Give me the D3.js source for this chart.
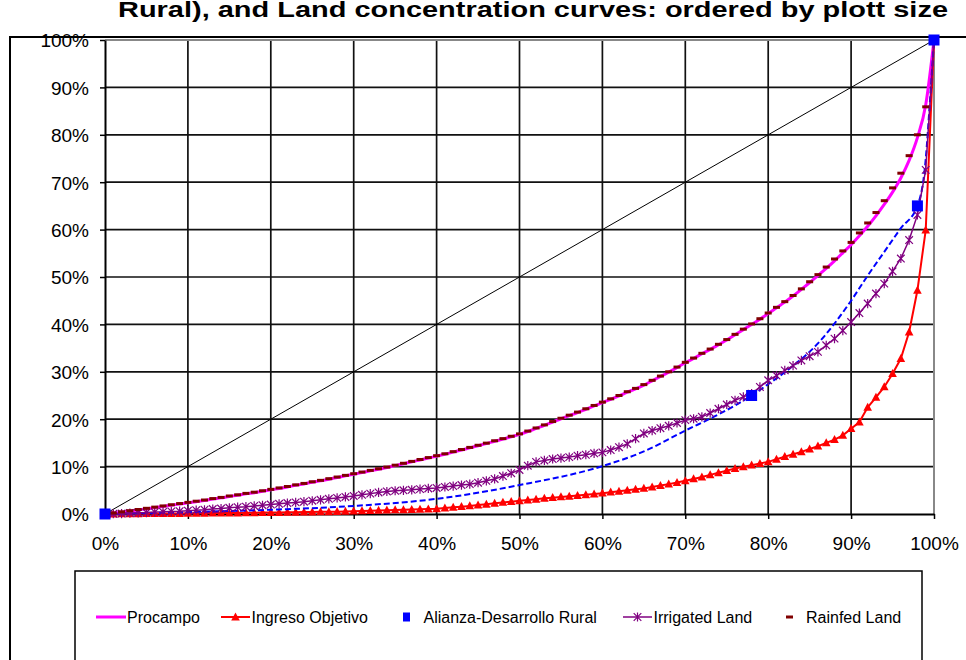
<!DOCTYPE html>
<html>
<head>
<meta charset="utf-8">
<script src="https://cdn.jsdelivr.net/npm/d3@7"></script>
<style>
  html, body { margin: 0; padding: 0; background: #fff; }
  svg { display: block; font-family: "Liberation Sans", Arial, sans-serif; }
</style>
</head>
<body>
<svg id="chart" width="966" height="660"></svg>
<script>
// ---- data ----------------------------------------------------------
const titleText = "Rural), and Land concentration curves: ordered by plott size";

const xTicks = [0, 10, 20, 30, 40, 50, 60, 70, 80, 90, 100];
const yTicks = [0, 10, 20, 30, 40, 50, 60, 70, 80, 90, 100];
const xTickLabels = ["0%", "10%", "20%", "30%", "40%", "50%", "60%", "70%", "80%", "90%", "100%"];
const yTickLabels = ["0%", "10%", "20%", "30%", "40%", "50%", "60%", "70%", "80%", "90%", "100%"];

// cumulative share of beneficiaries / plots (%), one point per percentile
const shares = d3.range(0, 101);

// cumulative share of payments / land (%)
const procampo = [
  0, 0.15, 0.35, 0.6, 0.85, 1.1, 1.35, 1.6, 1.85, 2.1,
  2.35, 2.6, 2.85, 3.15, 3.4, 3.7, 3.95, 4.25, 4.5, 4.8,
  5.1, 5.4, 5.7, 6.05, 6.35, 6.7, 7.0, 7.35, 7.7, 8.05,
  8.4, 8.75, 9.1, 9.45, 9.8, 10.2, 10.6, 11.0, 11.4, 11.8,
  12.2, 12.6, 13.05, 13.5, 13.95, 14.4, 14.85, 15.35, 15.8, 16.3,
  16.8, 17.4, 18.05, 18.7, 19.4, 20.1, 20.75, 21.4, 22.1, 22.8,
  23.5, 24.2, 24.9, 25.7, 26.4, 27.2, 28.1, 29.0, 29.9, 30.9,
  31.9, 32.8, 33.8, 34.7, 35.7, 36.7, 37.8, 38.9, 40.0, 41.1,
  42.3, 43.5, 44.7, 46.0, 47.4, 48.8, 50.3, 51.8, 53.4, 55.1,
  56.8, 58.7, 60.7, 62.9, 65.3, 67.9, 70.9, 74.6, 79.4, 86.3,
  100
];

const ingresoObjetivo = [
  0, 0, 0.05, 0.05, 0.05, 0.1, 0.1, 0.1, 0.1, 0.1,
  0.15, 0.15, 0.15, 0.2, 0.2, 0.2, 0.2, 0.25, 0.25, 0.3,
  0.3, 0.3, 0.35, 0.35, 0.4, 0.4, 0.45, 0.45, 0.5, 0.55,
  0.6, 0.65, 0.7, 0.75, 0.8, 0.85, 0.9, 0.95, 1.0, 1.05,
  1.1, 1.25, 1.4, 1.55, 1.7, 1.9, 2.05, 2.25, 2.45, 2.6,
  2.8, 2.95, 3.1, 3.3, 3.45, 3.6, 3.75, 3.9, 4.05, 4.2,
  4.4, 4.6, 4.8, 5.0, 5.2, 5.4, 5.7, 6.0, 6.3, 6.65,
  7.0, 7.4, 7.8, 8.25, 8.7, 9.15, 9.6, 9.95, 10.3, 10.65,
  11.0, 11.55, 12.1, 12.6, 13.1, 13.7, 14.3, 15.0, 15.7, 16.6,
  18.0, 19.4, 22.5, 24.6, 26.8, 29.6, 32.8, 38.4, 47.2, 59.9,
  100
];

const alianzaX = [0, 78, 98, 100];
const alianzaY = [0, 25, 65, 100];
// fitted curve through the Alianza points
const alianzaFitX = [0, 10, 20, 30, 40, 50, 60, 65, 70, 74, 78, 80, 82, 86, 90, 92, 94, 96, 98, 99, 99.5, 100];
const alianzaFitY = [0, 0.4, 0.9, 1.7, 3.2, 6.1, 10.1, 13.2, 17.6, 21.0, 25.0, 27.4, 29.9, 36.0, 45.0, 50.3, 55.3, 60.3, 65.0, 74.8, 86.8, 100];

const irrigatedLand = [
  0, 0.05, 0.1, 0.2, 0.25, 0.3, 0.4, 0.45, 0.55, 0.6,
  0.7, 0.8, 0.9, 1.05, 1.15, 1.3, 1.45, 1.55, 1.7, 1.85,
  2.0, 2.15, 2.3, 2.45, 2.6, 2.8, 3.0, 3.2, 3.4, 3.6,
  3.8, 4.05, 4.3, 4.55, 4.75, 4.9, 5.0, 5.1, 5.25, 5.4,
  5.5, 5.7, 5.9, 6.1, 6.3, 6.6, 7.0, 7.4, 8.0, 8.6,
  9.3, 10.2, 11.0, 11.3, 11.6, 11.8, 12.0, 12.3, 12.5, 12.8,
  13.0, 13.5, 14.1, 14.8, 15.9, 17.0, 17.6, 18.1, 18.6, 19.2,
  19.8, 20.1, 20.5, 21.3, 22.2, 23.1, 24.0, 24.7, 25.4, 26.8,
  28.2, 29.2, 30.3, 31.3, 32.4, 33.3, 34.2, 35.6, 37.0, 38.7,
  40.5, 42.4, 44.4, 46.5, 48.6, 51.2, 53.9, 57.8, 63.1, 72.6,
  100
];

const rainfedLand = [
  0, 0.2, 0.45, 0.7, 0.95, 1.2, 1.45, 1.7, 1.95, 2.2,
  2.45, 2.7, 2.95, 3.25, 3.5, 3.8, 4.05, 4.35, 4.6, 4.9,
  5.2, 5.5, 5.8, 6.15, 6.45, 6.8, 7.1, 7.45, 7.8, 8.15,
  8.5, 8.85, 9.2, 9.55, 9.9, 10.3, 10.7, 11.1, 11.5, 11.9,
  12.3, 12.7, 13.15, 13.6, 14.05, 14.5, 14.95, 15.45, 15.9, 16.4,
  16.9, 17.5, 18.15, 18.8, 19.5, 20.2, 20.85, 21.5, 22.2, 22.9,
  23.6, 24.3, 25.0, 25.8, 26.5, 27.3, 28.2, 29.1, 30.0, 31.0,
  32.0, 32.9, 33.9, 34.8, 35.8, 36.8, 37.9, 39.0, 40.1, 41.2,
  42.4, 43.6, 44.8, 46.1, 47.5, 49.0, 50.5, 52.1, 53.8, 55.5,
  57.3, 59.3, 61.4, 63.6, 66.1, 68.8, 71.9, 75.6, 80.0, 85.9,
  100
];

const equalityX = [0, 100];
const equalityY = [0, 100];

const legendNames = ["Procampo", "Ingreso Objetivo", "Alianza-Desarrollo Rural", "Irrigated Land", "Rainfed Land"];

// ---- layout --------------------------------------------------------
const svg = d3.select("#chart");
const plot = { left: 105, right: 934, top: 40, bottom: 514 };

const x = d3.scaleLinear().domain([0, 100]).range([plot.left, plot.right]);
const y = d3.scaleLinear().domain([0, 100]).range([plot.bottom, plot.top]);

const colors = {
  procampo: "#FF00FF",
  ingreso: "#FF0000",
  alianza: "#0000FF",
  irrigated: "#800080",
  rainfed: "#800000"
};

// chart-area frame
svg.append("rect")
  .attr("x", 10).attr("y", 37)
  .attr("width", 1000).attr("height", 700)
  .attr("fill", "#fff").attr("stroke", "#000").attr("stroke-width", 2);

// title
svg.append("text")
  .attr("x", 533).attr("y", 17)
  .attr("text-anchor", "middle")
  .attr("font-weight", "bold")
  .attr("font-size", 22)
  .attr("textLength", 830)
  .attr("lengthAdjust", "spacingAndGlyphs")
  .text(titleText);

// gridlines
const grid = svg.append("g");
grid.selectAll("line.gx")
  .data(xTicks.filter(d => d > 0 && d < 100))
  .join("line")
  .attr("x1", d => x(d)).attr("x2", d => x(d))
  .attr("y1", y(0)).attr("y2", y(100))
  .attr("stroke", "#111").attr("stroke-width", 1.7);
grid.selectAll("line.gy")
  .data(yTicks.filter(d => d > 0 && d < 100))
  .join("line")
  .attr("x1", x(0)).attr("x2", x(100))
  .attr("y1", d => y(d)).attr("y2", d => y(d))
  .attr("stroke", "#111").attr("stroke-width", 1.7);

// plot-area border (top and right)
svg.append("path")
  .attr("d", `M${x(0)},${y(100)}H${x(100)}V${y(0)}`)
  .attr("fill", "none").attr("stroke", "#888").attr("stroke-width", 2);

// axes
const yAxis = d3.axisLeft(y)
  .tickValues(yTicks)
  .tickFormat((d, i) => yTickLabels[i])
  .tickSizeInner(5).tickSizeOuter(0).tickPadding(11);
const xAxis = d3.axisBottom(x)
  .tickValues(xTicks)
  .tickFormat((d, i) => xTickLabels[i])
  .tickSizeInner(5).tickSizeOuter(0).tickPadding(18);

const gy = svg.append("g").attr("transform", `translate(${plot.left},0)`).call(yAxis);
const gx = svg.append("g").attr("transform", `translate(0,${plot.bottom})`).call(xAxis);
[gx, gy].forEach(g => {
  g.select(".domain").attr("stroke", "#000").attr("stroke-width", 2);
  g.selectAll(".tick line").attr("stroke", "#000").attr("stroke-width", 1.5);
  g.selectAll(".tick text")
    .attr("fill", "#000")
    .attr("font-size", 19)
    .attr("font-family", "Liberation Sans, Arial, sans-serif");
});
gy.selectAll(".tick text").attr("dy", "0.36em");

// equality diagonal
const diag = d3.line().x((d, i) => x(equalityX[i])).y((d, i) => y(equalityY[i]));
svg.append("path")
  .attr("d", diag(equalityX))
  .attr("fill", "none").attr("stroke", "#000").attr("stroke-width", 1);

const seriesLine = (xs, ys, curve) => d3.line()
  .x((d, i) => x(xs[i]))
  .y((d, i) => y(ys[i]))
  .curve(curve || d3.curveLinear)(xs);

const marks = svg.append("g");

// Procampo: plain line
marks.append("path")
  .attr("d", seriesLine(shares, procampo, d3.curveMonotoneX))
  .attr("fill", "none").attr("stroke", colors.procampo).attr("stroke-width", 3);

// Ingreso Objetivo: line with triangles
const triPath = "M0,-4.6L4.3,3.4L-4.3,3.4Z";
marks.append("path")
  .attr("d", seriesLine(shares, ingresoObjetivo))
  .attr("fill", "none").attr("stroke", colors.ingreso).attr("stroke-width", 2);
marks.append("g").selectAll("path")
  .data(shares)
  .join("path")
  .attr("d", triPath)
  .attr("transform", (d, i) => `translate(${x(d)},${y(ingresoObjetivo[i])})`)
  .attr("fill", colors.ingreso);

// Alianza: dashed fit + square markers
marks.append("path")
  .attr("d", seriesLine(alianzaFitX, alianzaFitY, d3.curveMonotoneX))
  .attr("fill", "none").attr("stroke", colors.alianza)
  .attr("stroke-width", 2).attr("stroke-dasharray", "6,3");

// Irrigated land: line with asterisks
const starPath = "M-3.8,-3.8L3.8,3.8M-3.8,3.8L3.8,-3.8M0,-4.6V4.6";
marks.append("path")
  .attr("d", seriesLine(shares, irrigatedLand))
  .attr("fill", "none").attr("stroke", colors.irrigated).attr("stroke-width", 1.5);
marks.append("g").selectAll("path")
  .data(shares)
  .join("path")
  .attr("d", starPath)
  .attr("transform", (d, i) => `translate(${x(d)},${y(irrigatedLand[i])})`)
  .attr("fill", "none").attr("stroke", colors.irrigated).attr("stroke-width", 1.2);

// Rainfed land: dash markers only
marks.append("g").selectAll("rect")
  .data(shares)
  .join("rect")
  .attr("x", d => x(d) - 3.5)
  .attr("y", (d, i) => y(rainfedLand[i]) - 1.5)
  .attr("width", 7).attr("height", 3)
  .attr("fill", colors.rainfed);

// Alianza squares on top
marks.append("g").selectAll("rect")
  .data(alianzaX)
  .join("rect")
  .attr("x", d => x(d) - 5.5)
  .attr("y", (d, i) => y(alianzaY[i]) - 5.5)
  .attr("width", 11).attr("height", 11)
  .attr("fill", colors.alianza);

// ---- legend --------------------------------------------------------
svg.append("rect")
  .attr("x", 75).attr("y", 571)
  .attr("width", 847).attr("height", 120)
  .attr("fill", "#fff").attr("stroke", "#000").attr("stroke-width", 1.5);

const legendY = 617;
const legendItems = [
  { name: legendNames[0], x0: 96, x1: 126, tx: 127, kind: "line", color: colors.procampo },
  { name: legendNames[1], x0: 221, x1: 250, tx: 251.5, kind: "tri", color: colors.ingreso },
  { name: legendNames[2], x0: 401, x1: 412, tx: 423.5, kind: "square", color: colors.alianza },
  { name: legendNames[3], x0: 623, x1: 652, tx: 653.5, kind: "star", color: colors.irrigated },
  { name: legendNames[4], x0: 786, x1: 793, tx: 806, kind: "dash", color: colors.rainfed }
];
const lg = svg.append("g");
legendItems.forEach(it => {
  const cx = (it.x0 + it.x1) / 2;
  if (it.kind === "line" || it.kind === "tri" || it.kind === "star") {
    lg.append("line")
      .attr("x1", it.x0).attr("x2", it.x1)
      .attr("y1", legendY).attr("y2", legendY)
      .attr("stroke", it.color)
      .attr("stroke-width", it.kind === "line" ? 3 : (it.kind === "tri" ? 2 : 1.5));
  }
  if (it.kind === "tri") {
    lg.append("path").attr("d", triPath)
      .attr("transform", `translate(${cx},${legendY})`).attr("fill", it.color);
  }
  if (it.kind === "star") {
    lg.append("path").attr("d", starPath)
      .attr("transform", `translate(${cx},${legendY})`)
      .attr("fill", "none").attr("stroke", it.color).attr("stroke-width", 1.2);
  }
  if (it.kind === "square") {
    lg.append("rect").attr("x", cx - 3.5).attr("y", legendY - 4.5)
      .attr("width", 7).attr("height", 9).attr("fill", it.color);
  }
  if (it.kind === "dash") {
    lg.append("rect").attr("x", cx - 3.5).attr("y", legendY - 1.5)
      .attr("width", 7).attr("height", 3).attr("fill", it.color);
  }
  lg.append("text")
    .attr("x", it.tx).attr("y", legendY + 6)
    .attr("font-size", 16)
    .attr("fill", "#000")
    .text(it.name);
});
</script>
</body>
</html>
